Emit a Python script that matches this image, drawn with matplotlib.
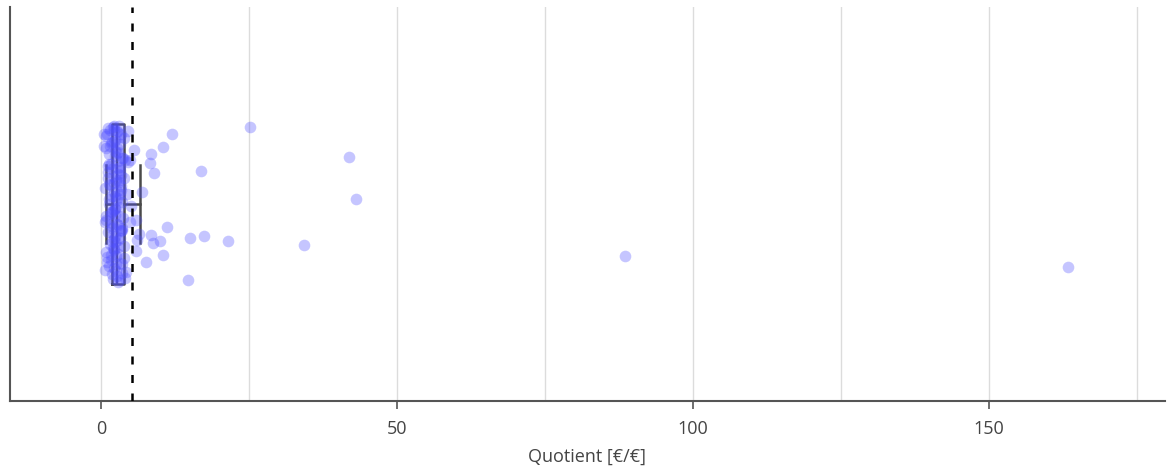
import numpy as np
import matplotlib
matplotlib.use("Agg")
import matplotlib.pyplot as plt

# quotient values and their vertical jitter
cluster_x = [
    1.2, 2.1, 3.0, 3.4, 0.8, 1.9, 2.6, 3.8, 1.5, 2.9,
    0.9, 2.3, 3.2, 4.1, 1.7, 2.8, 3.6, 1.1, 2.0, 3.1,
    2.5, 1.4, 3.9, 0.7, 2.2, 3.3, 1.8, 2.7, 4.4, 1.3,
    2.4, 3.5, 1.6, 3.0, 2.1, 0.9, 3.7, 2.6, 1.9, 4.8,
    1.2, 2.3, 3.4, 2.8, 1.5, 3.1, 2.0, 0.8, 3.8, 2.5,
    1.7, 2.9, 3.6, 1.0, 2.2, 4.2, 1.4, 2.7, 3.2, 1.9,
    2.4, 5.5, 1.1, 3.0, 2.6, 1.6, 3.5, 2.1, 0.7, 4.0,
    1.3, 2.8, 3.3, 5.1, 1.8, 2.3, 3.9, 1.0, 2.9, 4.6,
    1.5, 2.0, 3.1, 6.0, 1.2, 2.5, 3.7, 0.9, 2.2, 5.8,
    2.0, 2.6, 3.2, 1.6, 2.3, 2.9, 1.8, 3.4, 2.1, 2.7,
    1.4, 3.0, 2.4, 1.9, 3.3, 2.2, 2.8, 1.7, 3.1, 2.5,
    0.5, 0.4, 0.6, 1.0, 2.0, 2.6, 3.2, 1.5, 2.3, 2.9,
    1.8, 3.5, 2.1, 2.7, 1.3, 3.0, 2.4, 1.9, 3.6, 2.2,
]
cluster_y = [
    0.95, 0.92, 0.97, 0.88, 0.85, 0.78, 0.90, 0.82, 0.72, 0.65,
    0.70, 0.60, 0.75, 0.55, 0.50, 0.45, 0.58, 0.40, 0.35, 0.42,
    0.30, 0.25, 0.32, 0.20, 0.15, 0.22, 0.10, 0.05, 0.12, 0.00,
    -0.05, 0.02, -0.10, -0.15, -0.08, -0.20, -0.18, -0.25, -0.30, -0.22,
    -0.35, -0.40, -0.33, -0.45, -0.50, -0.42, -0.55, -0.60, -0.52, -0.65,
    -0.70, -0.62, -0.75, -0.72, -0.80, -0.85, -0.78, -0.90, -0.95, -0.88,
    0.80, 0.68, 0.48, 0.28, 0.08, -0.12, -0.32, -0.58, -0.82, -0.92,
    0.62, 0.38, 0.18, -0.02, -0.28, -0.48, -0.68, 0.87, -0.97, 0.52,
    0.93, -0.38, 0.13, -0.45, 0.33, -0.75, 0.57, -0.15, 0.77, -0.20,
    0.96, 0.91, 0.84, 0.76, 0.66, 0.54, 0.44, 0.36, 0.26, 0.16,
    0.06, -0.04, -0.14, -0.24, -0.34, -0.44, -0.54, -0.64, -0.74, -0.84,
    0.88, 0.72, -0.22, -0.66, -0.94, 0.64, 0.46, 0.24, -0.06, -0.26,
    -0.46, -0.86, 0.98, 0.70, 0.50, 0.30, 0.10, -0.10, -0.30, -0.56,
]
spread_x = [25.2, 41.9, 43.1, 34.3, 88.5, 163.3, 16.9, 12.0, 10.5, 8.4,
            8.3, 9.0, 6.9, 11.1, 8.4, 8.8, 10.0, 10.5, 7.6, 15.0,
            17.4, 21.5, 14.7, 6.4, 5.9, 4.6, 4.9]
spread_y = [0.96, 0.59, 0.06, -0.51, -0.65, -0.79, 0.41, 0.875, 0.71, 0.625,
            0.51, 0.39, 0.15, -0.29, -0.39, -0.49, -0.46, -0.64, -0.73, -0.43,
            -0.40, -0.46, -0.95, -0.375, -0.59, 0.91, 0.55]

# box statistics
whisker_low, q1, median, q3, whisker_high = 0.85, 1.8, 2.7, 3.9, 6.5
reference_line = 5.24

values = np.array(cluster_x + spread_x)
jitter = np.array(cluster_y + spread_y)

text_color = "#444444"
box_color = "#4a4a4a"
plt.rcParams["font.family"] = ["Open Sans", "DejaVu Sans"]

fig = plt.figure(figsize=(11.67, 4.72), dpi=100)
ax = fig.add_axes([10 / 1167, 71 / 472, 1155 / 1167, 394 / 472])

ax.bxp([{"whislo": whisker_low, "q1": q1, "med": median, "q3": q3,
         "whishi": whisker_high, "fliers": []}],
       positions=[0], widths=2.0, capwidths=0.98, orientation="horizontal",
       showfliers=False, patch_artist=False,
       boxprops=dict(color=box_color, lw=1.8),
       whiskerprops=dict(color=box_color, lw=1.8),
       capprops=dict(color=box_color, lw=1.8),
       medianprops=dict(color=box_color, lw=1.6),
       zorder=2)

ax.scatter(values, jitter, s=70, color="#5050ff", alpha=0.33,
           linewidths=0, zorder=3)

ax.axvline(reference_line, color="black", lw=1.8,
           ls=(0, (3.2, 4.2)), zorder=4)

ax.set_xlim(-15.4, 179.7)
ax.set_ylim(-2.46, 2.46)
ax.set_xticks([0, 50, 100, 150])
ax.set_xticks(np.arange(0, 176, 25), minor=True)
ax.grid(axis="x", which="both", color="#dcdcdc", lw=1.0, zorder=0)
ax.set_axisbelow(True)
ax.tick_params(axis="x", which="major", length=6, width=1.2, color="#555555",
               labelsize=13, labelcolor=text_color, pad=8)
ax.tick_params(axis="x", which="minor", length=0)
ax.set_yticks([])
ax.set_xlabel("Quotient [€/€]", fontsize=13, color=text_color, labelpad=7)

for side in ["top", "right"]:
    ax.spines[side].set_visible(False)
for side in ["left", "bottom"]:
    ax.spines[side].set_color("#555555")
    ax.spines[side].set_linewidth(1.5)

fig.savefig("out.png", dpi=100)
